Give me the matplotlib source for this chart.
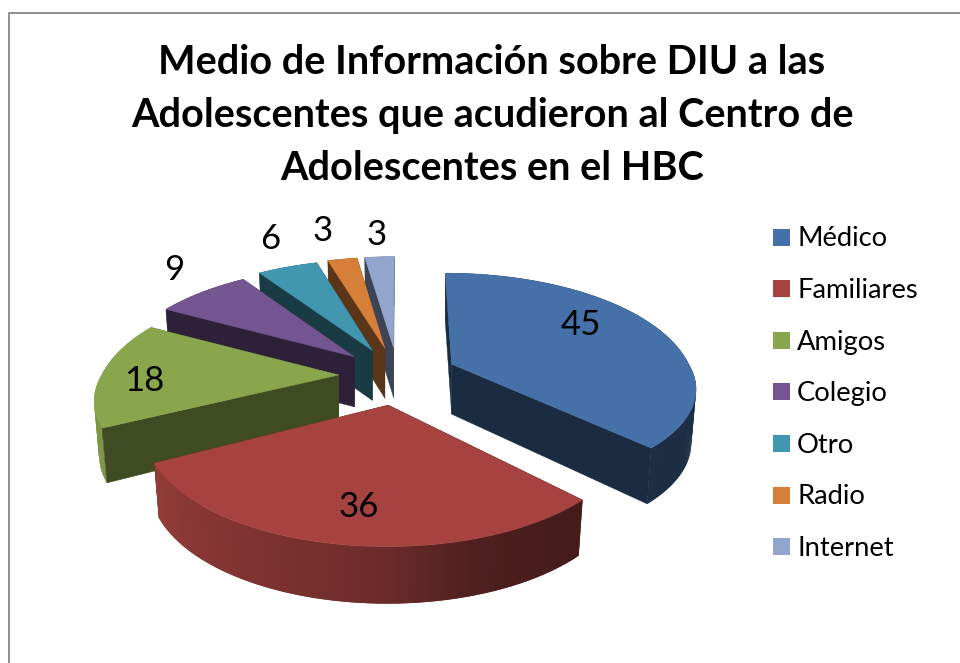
import numpy as np
import matplotlib
matplotlib.use("Agg")
import matplotlib.pyplot as plt
from matplotlib.patches import Polygon, Rectangle

plt.rcParams["font.family"] = ["Lato", "DejaVu Sans"]

# data
categories = ["Médico", "Familiares", "Amigos", "Colegio", "Otro", "Radio", "Internet"]
values = [45, 36, 18, 9, 6, 3, 3]
colors = ["#4671A8", "#A64340", "#8AA64C", "#735591", "#4197AF", "#D67F39", "#91A5CD"]
title_lines = ["Medio de Información sobre DIU a las",
               "Adolescentes que acudieron al Centro de",
               "Adolescentes en el HBC"]

# layout, in pixels of the 960x663 picture
label_pos = [(581, 325), (359, 507), (144, 381), (174, 270), (270, 239), (323, 231), (377, 235)]
cut_shade = [0.39, 0.40, 0.46, 0.39, 0.39, 0.42, 0.41]
center = (398, 375)
explode = 0.25
draw_order = [6, 5, 4, 3, 2, 0, 1]


def project(X, Y):
    # flat pie coordinates -> pixel offsets, front of the pie is larger
    s = 237 + np.where(Y > 0, 55, 50) * Y
    return X * s, 116 * Y + 25 * Y ** 2


def depth(Y):
    return 53 + 4 * Y


def shade(col, f):
    return tuple(c * f for c in matplotlib.colors.to_rgb(col))


def rim_factor(dx):
    return np.interp(dx, [-240, -200, 0, 90, 195, 260], [0.90, 0.82, 0.64, 0.47, 0.41, 0.40])


fig = plt.figure(figsize=(9.6, 6.63), dpi=100)
ax = fig.add_axes([0, 0, 1, 1])
ax.set_xlim(0, 960)
ax.set_ylim(663, 0)
ax.axis("off")

# chart frame, only top and left are inside the picture
ax.plot([8.5, 8.5, 960], [663, 12.5, 12.5], color="#868686", lw=1.3)

total = sum(values)
edges = np.concatenate([[0], np.cumsum(values)]) / total * 2 * np.pi

for i in draw_order:
    t0, t1 = edges[i], edges[i + 1]
    mid = (t0 + t1) / 2
    ax_off, ay_off = project(explode * np.sin(mid), -explode * np.cos(mid))
    ax0, ay0 = center[0] + ax_off, center[1] + ay_off
    col = colors[i]
    theta = np.linspace(t0, t1, max(int(values[i] * 5), 8))
    X, Y = np.sin(theta), -np.cos(theta)
    dx, dy = project(X, Y)
    dx = dx + 0.12 * ax_off * Y  # slices converge a little towards the back
    dy = np.where(dy > 0, dy * (1 + 0.0028 * (ay_off - 29)), dy)
    rx, ry = ax0 + dx, ay0 + dy
    d = depth(Y)
    bx = rx - 0.02 * dx
    by = ry + d
    apex_d = 50

    def draw_rim():
        # outer rim, one strip per step so that it darkens to the right
        for j in range(len(theta) - 1):
            e = min(j + 2, len(theta) - 1)
            quad = [(rx[j], ry[j]), (rx[e], ry[e]), (bx[e], by[e]), (bx[j], by[j])]
            f = shade(col, rim_factor((dx[j] + dx[j + 1]) / 2))
            ax.add_patch(Polygon(quad, closed=True, fc=f, ec="none"))

    def draw_cuts():
        # cut faces, the far one first
        ends = [0, -1] if i == 0 else [-1, 0]
        for k in ends:
            face = [(ax0, ay0), (rx[k], ry[k]), (bx[k], by[k]), (ax0, ay0 + apex_d)]
            f = shade(col, cut_shade[i])
            ax.add_patch(Polygon(face, closed=True, fc=f, ec=f, lw=0.3))

    # the front slice hides its cuts behind the rim, the others the other way round
    if i == 1:
        draw_cuts()
        draw_rim()
    else:
        draw_rim()
        draw_cuts()

    # top
    top = [(ax0, ay0)] + list(zip(rx, ry))
    ax.add_patch(Polygon(top, closed=True, fc=col, ec=col, lw=0.3))

for y, line in zip([62, 116, 169], title_lines):
    ax.text(492, y, line, ha="center", va="center", fontsize=28.5, fontweight="bold", color="black")

for v, (x, y) in zip(values, label_pos):
    ax.text(x, y, str(v), ha="center", va="center", fontsize=25, color="black")

for i, (name, col) in enumerate(zip(categories, colors)):
    y = 237 + i * 51.6
    ax.add_patch(Rectangle((773, y - 8.5), 17, 17, fc=col, ec="none"))
    ax.text(797, y + 2, name, ha="left", va="center", fontsize=19.7, color="black")

fig.savefig("out.png", dpi=100)
